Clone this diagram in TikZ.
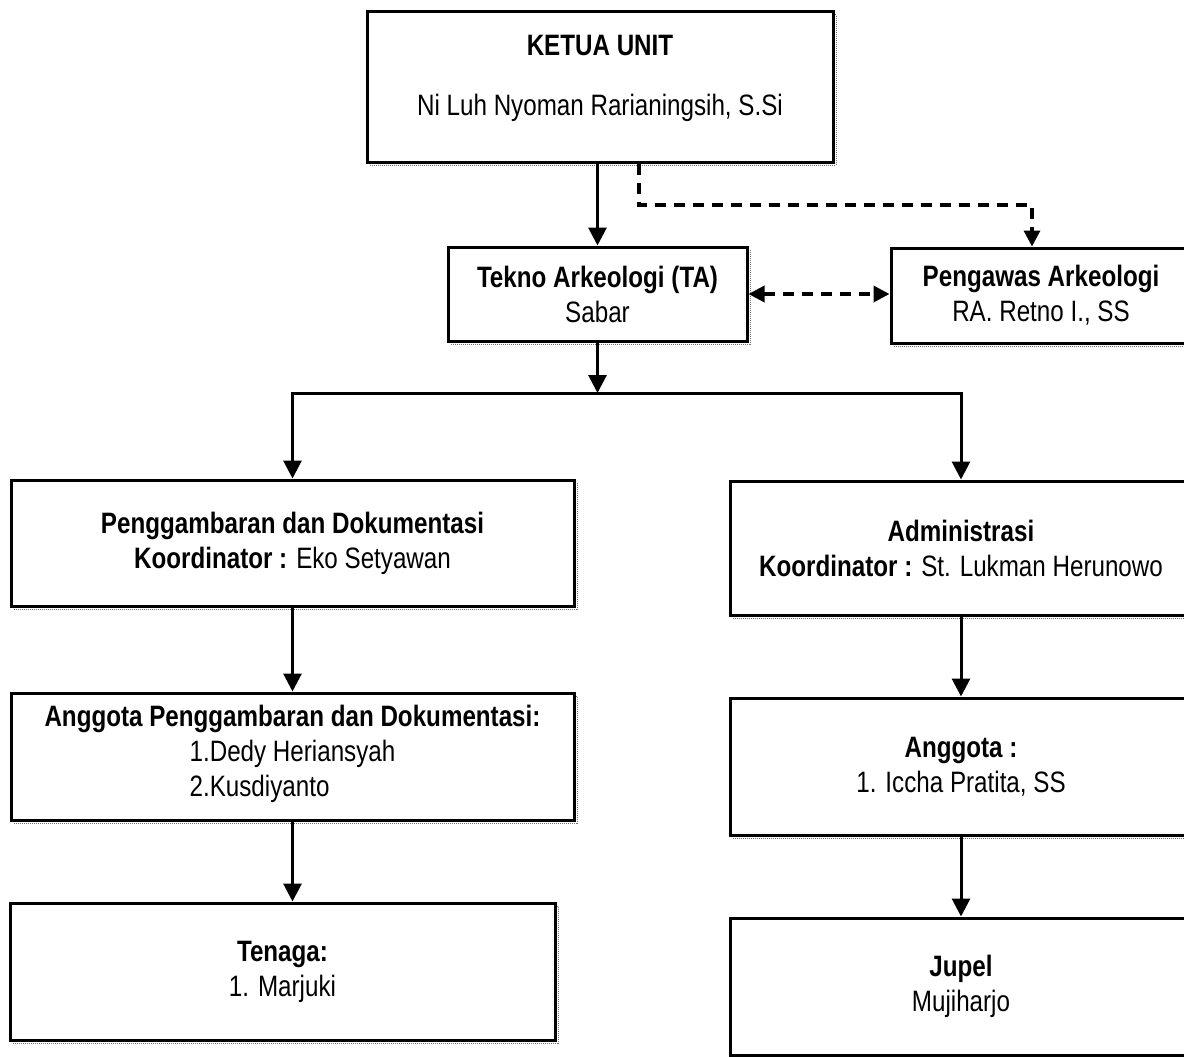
\documentclass[tikz,border=0pt]{standalone}
\usepackage{fontspec}
\setmainfont{Liberation Sans}[FakeStretch=0.82]
\usetikzlibrary{arrows.meta,positioning,shadows}

\tikzset{
    orgbox/.style={draw, line width=3pt, fill=white, inner sep=0pt, align=center,
        font=\fontsize{29.5}{35}\selectfont,
        general shadow={draw=black!55, line width=1pt, densely dotted, shadow xshift=3pt, shadow yshift=-3pt}},
    link/.style={line width=3pt, -{Triangle[length=18pt,width=18pt]}},
    dashlink/.style={line width=3.5pt, dash pattern=on 11pt off 8pt, -{Triangle[length=16pt,width=16pt]}},
    dashboth/.style={line width=3.5pt, dash pattern=on 11pt off 8pt, {Triangle[length=16pt,width=16pt]}-{Triangle[length=16pt,width=16pt]}},
}

\begin{document}
\begin{tikzpicture}[x=1pt, y=-1pt]
        \useasboundingbox (0, 0) rectangle (1184, 1057);

        % top of the unit
        \node[orgbox, minimum width=466pt, minimum height=150pt, text depth=23.5pt] (ketua) at (600, 87)
            {\textbf{KETUA UNIT}\\[25pt]Ni Luh Nyoman Rarianingsih, S.Si};
        \node[orgbox, minimum width=299pt, minimum height=94pt] (tekno) at (597.5, 294)
            {\textbf{Tekno Arkeologi (TA)}\\Sabar};
        \node[orgbox, minimum width=300pt, minimum height=95pt] (pengawas) at (1041, 295.5)
            {\textbf{Pengawas Arkeologi}\\RA. Retno I., SS};

        % left branch
        \node[orgbox, minimum width=563pt, minimum height=126pt] (dok) at (292.5, 543)
            {\textbf{Penggambaran dan Dokumentasi}\\\textbf{Koordinator :} Eko Setyawan};
        \node[orgbox, minimum width=563pt, minimum height=127pt] (dokAng) at (292.5, 756.5)
            {\textbf{Anggota Penggambaran dan Dokumentasi:}\\\begin{tabular}[t]{@{}l@{}}1.Dedy Heriansyah\\2.Kusdiyanto\end{tabular}};
        \node[orgbox, minimum width=545pt, minimum height=137pt] (tenaga) at (282.5, 971.5)
            {\textbf{Tenaga:}\\1. Marjuki};

        % right branch
        \node[orgbox, minimum width=462pt, minimum height=134pt] (adm) at (961, 548)
            {\textbf{Administrasi}\\\textbf{Koordinator :} St. Lukman Herunowo};
        \node[orgbox, minimum width=462pt, minimum height=137pt] (admAng) at (961, 766.5)
            {\textbf{Anggota :}\\1. Iccha Pratita, SS};
        \node[orgbox, minimum width=462pt, minimum height=137pt] (jupel) at (961, 986.5)
            {\textbf{Jupel}\\Mujiharjo};

        \coordinate (dashbend) at (639, 205);
        \coordinate (split) at (597.5, 393);

        \draw[link] (ketua.south -| tekno.north) -- (tekno.north);
        \draw[dashlink] (ketua.south -| dashbend) -- (dashbend) -| ([xshift=-9pt]pengawas.north);
        \draw[dashboth] (tekno.east) -- (tekno.east -| pengawas.west);

        \draw[link] (tekno.south) -- (split);
        \draw[link] (split) -| (dok.north);
        \draw[link] (split) -| (adm.north);

        \draw[link] (dok.south) -- (dokAng.north);
        \draw[link] (dokAng.south) -- (dokAng.south |- tenaga.north);
        \draw[link] (adm.south) -- (admAng.north);
        \draw[link] (admAng.south) -- (jupel.north);
    \end{tikzpicture}
\end{document}
